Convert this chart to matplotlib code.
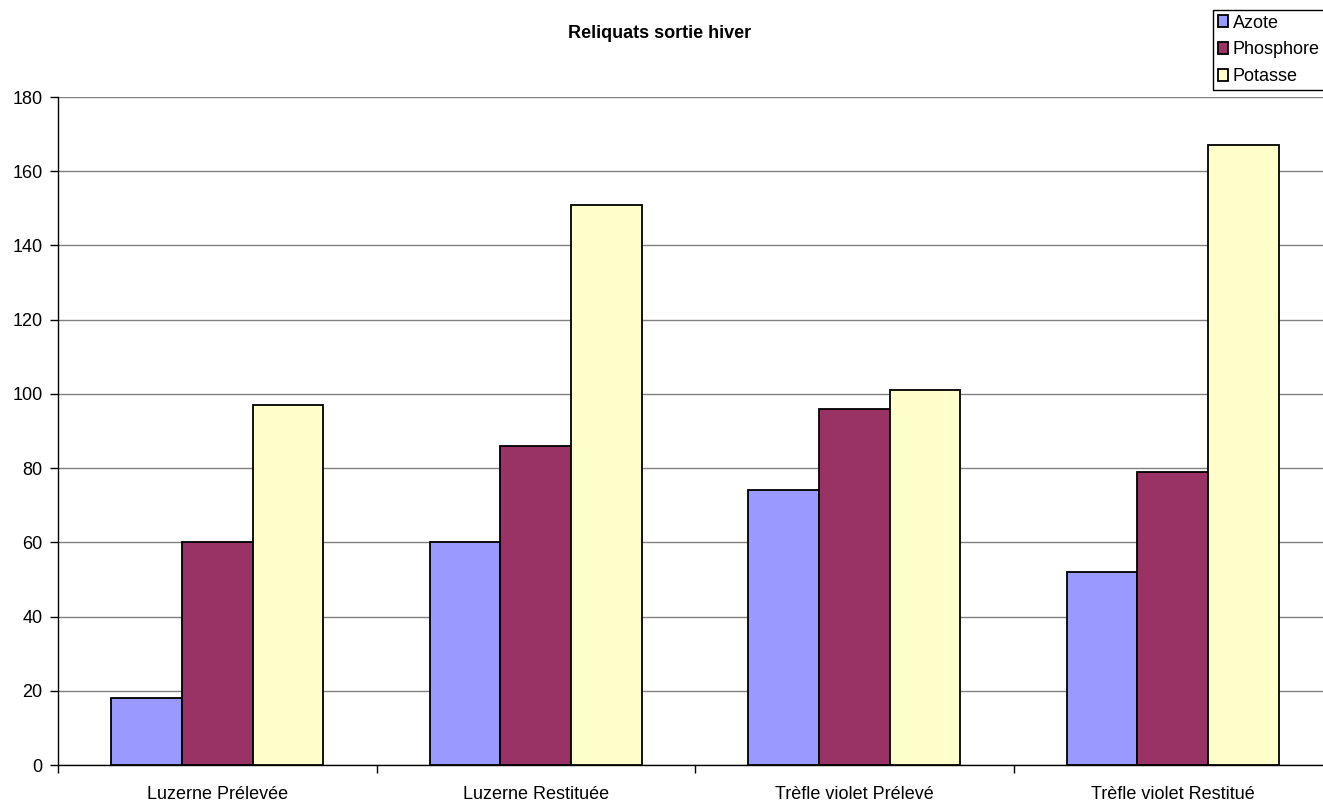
import matplotlib
matplotlib.use("Agg")
import matplotlib.pyplot as plt
import numpy as np
from matplotlib.patches import Patch

plt.rcParams['font.family'] = ['Liberation Sans', 'DejaVu Sans']

categories = ["Luzerne Prélevée", "Luzerne Restituée", "Trèfle violet Prélevé", "Trèfle violet Restitué"]
series_names = ["Azote", "Phosphore", "Potasse"]
azote = [18, 60, 74, 52]
phosphore = [60, 86, 96, 79]
potasse = [97, 151, 101, 167]
colors = ["#9999FF", "#993366", "#FFFFCC"]
yticks = [0, 20, 40, 60, 80, 100, 120, 140, 160, 180]

W, H = 1323, 801
fig = plt.figure(figsize=(W / 100, H / 100), dpi=100)
left, right_px = 58, 1332
top, bottom = 97, 765
ax = fig.add_axes([left / W, 1 - bottom / H, (right_px - left) / W, (bottom - top) / H])

FS = 13
x = np.arange(len(categories))
bw = 1 / 4.5
for i, (vals, c, name) in enumerate(zip([azote, phosphore, potasse], colors, series_names)):
    ax.bar(x + (i - 1) * bw, vals, width=bw, color=c, edgecolor="black", linewidth=1.3,
           label=name, zorder=3)

ax.set_xlim(-0.5, 3.5)
ax.set_ylim(0, 180)
ax.set_yticks(yticks)
ax.set_yticklabels([str(t) for t in yticks], fontsize=FS)
ax.yaxis.grid(True, color="#808080", linewidth=1, zorder=0)
ax.set_axisbelow(True)

ax.set_xticks(x)
ax.set_xticklabels(categories, fontsize=FS)
ax.tick_params(axis='x', length=0, pad=15)
ax.set_xticks(np.arange(-0.5, 4.0, 1.0), minor=True)
ax.tick_params(axis='x', which='minor', length=6, direction='out', width=1)
ax.tick_params(axis='y', length=6, direction='out', width=1, pad=5)

for s in ['top', 'right']:
    ax.spines[s].set_visible(False)
for s in ['left', 'bottom']:
    ax.spines[s].set_color('black')
    ax.spines[s].set_linewidth(1)

fig.text(660 / W, 1 - 33 / H, "Reliquats sortie hiver", ha="center", va="center",
         fontsize=FS, fontweight="bold")

handles = [Patch(facecolor=c, edgecolor="black", linewidth=1.3) for c in colors]
leg = fig.legend(handles, series_names, loc="upper left", bbox_to_anchor=(1213 / W, 1 - 10 / H),
                 fontsize=FS, frameon=True, fancybox=False, framealpha=1, edgecolor="black",
                 handlelength=0.6, handleheight=0.6, handletextpad=0.25, labelspacing=0.55,
                 borderpad=0.25, borderaxespad=0)
leg.get_frame().set_linewidth(1)

fig.savefig("out.png", dpi=100)
